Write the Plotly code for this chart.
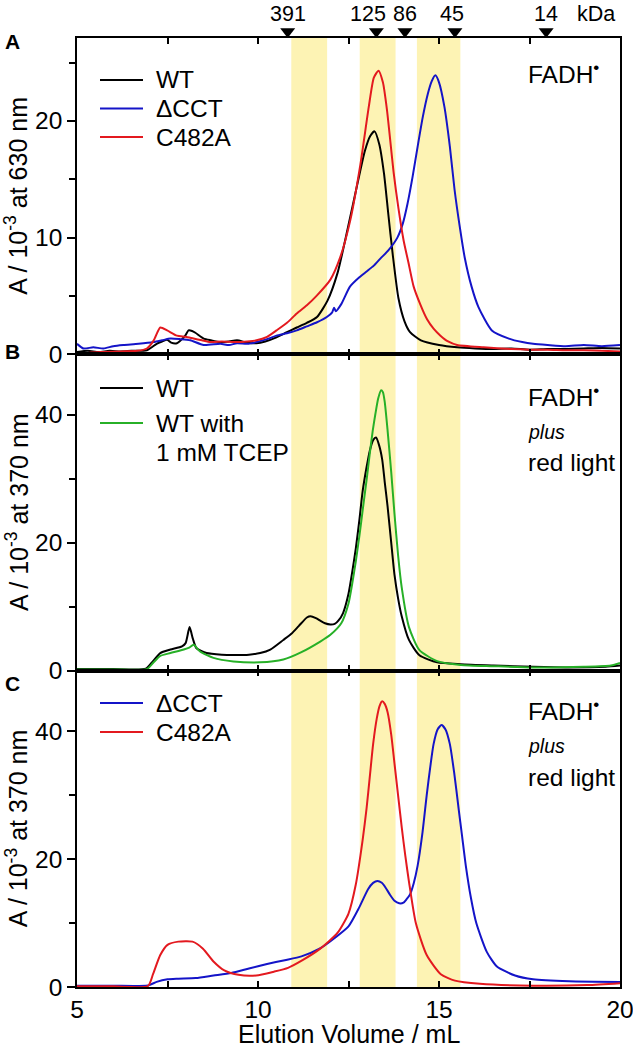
import plotly.graph_objects as go
from plotly.subplots import make_subplots

# ---------------- data ----------------
# Panel A: FADH radical, absorbance at 630 nm (x 10^-3)
a_wt_x = [5.0, 5.3, 5.6, 5.9, 6.2, 6.5, 6.93, 7.2, 7.35, 7.49, 7.6, 7.76, 7.9, 7.99, 8.08, 8.18, 8.27, 8.5, 8.7,
          8.96, 9.2, 9.42, 9.7, 9.96, 10.2, 10.51, 10.8, 11.07, 11.35, 11.63, 11.92, 12.2, 12.48, 12.76, 12.95,
          13.1, 13.22, 13.35, 13.48, 13.6, 13.72, 13.88, 14.05, 14.2, 14.5, 15.0, 15.5, 16.0, 16.5, 17.0, 17.5,
          18.0, 18.5, 19.0, 19.5, 20.0]
a_wt_y = [0.2, 0.3, 0.2, 0.3, 0.25, 0.3, 0.35, 0.9, 1.1, 1.25, 1.0, 0.95, 1.3, 1.6, 2.05, 2.0, 1.85, 1.35, 1.2,
          1.05, 1.1, 1.2, 1.0, 0.95, 1.1, 1.45, 1.9, 2.3, 2.7, 3.2, 4.6, 7.0, 10.8, 14.8, 17.4,
          18.7, 19.1, 18.0, 15.5, 12.0, 8.6, 4.8, 2.8, 1.9, 1.2, 0.8, 0.6, 0.5, 0.45, 0.5, 0.4,
          0.45, 0.45, 0.5, 0.55, 0.5]

a_dcct_x = [5.0, 5.18, 5.45, 5.73, 6.0, 6.28, 6.7, 7.12, 7.35, 7.58, 7.85, 8.13, 8.5, 8.96, 9.2, 9.42, 9.7, 9.96,
            10.25, 10.51, 10.8, 11.07, 11.35, 11.63, 11.9, 12.05, 12.1, 12.15, 12.3, 12.54, 12.8, 13.0, 13.2, 13.38,
            13.6, 13.85, 14.0, 14.13, 14.27, 14.41, 14.55, 14.69, 14.8, 14.9, 15.0, 15.15, 15.3, 15.43, 15.57,
            15.71, 15.9, 16.09, 16.46, 16.93, 17.3, 17.6, 18.0, 18.5, 19.0, 19.5, 20.0]
a_dcct_y = [0.9, 0.5, 0.6, 0.5, 0.7, 0.8, 0.9, 1.05, 1.2, 1.35, 1.3, 1.2, 0.8, 0.9, 0.8, 0.95, 0.9, 1.05,
            1.3, 1.6, 1.8, 2.05, 2.4, 2.75, 3.2, 3.6, 4.0, 3.7, 4.3, 5.8, 6.6, 7.1, 7.6, 8.2,
            8.9, 10.0, 11.2, 12.9, 15.2, 17.8, 20.3, 22.3, 23.4, 23.9, 23.3, 21.2, 17.8, 14.1, 11.0,
            8.3, 5.8, 4.05, 2.05, 1.35, 1.05, 0.9, 0.8, 0.7, 0.8, 0.7, 0.8]

a_c482a_x = [5.0, 5.4, 5.73, 6.2, 6.66, 6.93, 7.12, 7.3, 7.49, 7.76, 8.0, 8.22, 8.45, 8.68, 9.0, 9.42, 9.7, 9.96,
             10.25, 10.51, 10.8, 11.07, 11.35, 11.63, 12.0, 12.27, 12.55, 12.83, 13.06, 13.2, 13.33, 13.45, 13.56,
             13.75, 13.88, 14.02, 14.16, 14.3, 14.48, 14.67, 14.85, 15.04, 15.25, 15.5, 16.23, 17.0, 17.5, 18.0,
             18.5, 19.0, 19.5, 20.0]
a_c482a_y = [-0.1, 0.15, 0.2, 0.25, 0.3, 0.5, 1.2, 2.3, 2.05, 1.6, 1.5, 1.35, 1.2, 1.05, 1.1, 1.05, 1.1, 1.2,
             1.5, 2.05, 2.7, 3.5, 4.2, 5.05, 6.4, 8.3, 11.5, 16.3, 21.2, 23.7, 24.3, 23.3, 21.0,
             15.5, 12.5, 9.8, 7.8, 5.8, 4.3, 3.0, 2.2, 1.6, 1.1, 0.8, 0.6, 0.45, 0.4, 0.4,
             0.35, 0.35, 0.3, 0.25]

# Panel B: plus red light, absorbance at 370 nm (x 10^-3)
b_wt_x = [5.0, 6.0, 6.9, 7.1, 7.3, 7.58, 7.9, 8.0, 8.11, 8.2, 8.3, 8.58, 9.0, 9.32, 9.75, 10.06, 10.34, 10.7,
          10.93, 11.13, 11.35, 11.45, 11.6, 11.72, 11.85, 12.0, 12.12, 12.22, 12.35, 12.5, 12.6, 12.7, 12.8, 12.89,
          13.0, 13.09, 13.18, 13.26, 13.34, 13.43, 13.5, 13.58, 13.68, 13.77, 13.87, 13.97, 14.17, 14.46, 14.95,
          15.6, 16.5, 17.6, 18.5, 19.6, 20.0]
b_wt_y = [0.25, 0.25, 0.3, 1.5, 2.75, 3.3, 3.8, 4.3, 6.8, 5.0, 3.5, 2.75, 2.5, 2.45, 2.5, 2.75, 3.3, 4.8,
          5.8, 7.0, 8.3, 8.5, 8.2, 7.8, 7.4, 7.2, 7.3, 7.8, 9.0, 12.0, 15.3, 19.0, 23.5, 28.0,
          31.8, 34.4, 36.0, 36.4, 35.3, 33.0, 29.5, 25.6, 20.0, 15.0, 11.3, 8.5, 4.8, 2.4, 1.3,
          1.0, 0.8, 0.6, 0.5, 0.6, 0.8]

b_tcep_x = [5.0, 6.0, 6.93, 7.1, 7.3, 7.58, 7.95, 8.1, 8.22, 8.4, 8.77, 9.32, 10.06, 10.7, 11.2, 11.72, 12.0,
            12.3, 12.5, 12.6, 12.7, 12.8, 12.89, 13.0, 13.09, 13.17, 13.24, 13.32, 13.4, 13.45, 13.5, 13.58, 13.68,
            13.77, 13.87, 13.97, 14.17, 14.46, 14.95, 15.6, 16.5, 17.6, 19.0, 19.75, 20.0]
b_tcep_y = [0.2, 0.2, 0.25, 1.2, 2.3, 2.75, 3.3, 3.6, 4.05, 3.0, 2.0, 1.45, 1.3, 1.75, 2.9, 4.55, 5.6,
            7.4, 10.5, 13.5, 17.0, 21.0, 25.0, 29.8, 34.0, 37.5, 40.0, 42.5, 43.8, 43.5, 42.0, 37.5, 31.0,
            24.5, 18.0, 13.0, 6.8, 3.2, 1.5, 0.9, 0.7, 0.5, 0.6, 0.8, 1.2]

# Panel C: plus red light, absorbance at 370 nm (x 10^-3)
c_dcct_x = [5.0, 6.0, 6.96, 7.2, 7.5, 7.8, 8.28, 8.77, 9.26, 9.75, 10.25, 10.74, 11.2, 11.7, 12.1, 12.5, 12.8,
            13.04, 13.18, 13.3, 13.42, 13.53, 13.65, 13.77, 13.9, 14.02, 14.1, 14.2, 14.3, 14.41, 14.54, 14.66,
            14.76, 14.85, 14.96, 15.07, 15.18, 15.3, 15.42, 15.54, 15.64, 15.74, 15.88, 16.03, 16.32,
            16.6, 17.1, 17.6, 18.6, 20.0]
c_dcct_y = [0.2, 0.2, 0.25, 0.8, 1.2, 1.3, 1.4, 1.8, 2.2, 2.9, 3.6, 4.2, 4.8, 6.0, 7.6, 9.5, 12.5,
            15.3, 16.3, 16.6, 16.3, 15.5, 14.4, 13.5, 13.1, 13.2, 13.7, 14.5, 16.2, 19.0, 24.0, 30.0,
            34.5, 38.0, 40.3, 41.0, 40.3, 38.0, 33.5, 28.0, 23.5, 19.0, 14.0, 10.0, 5.5,
            3.2, 1.8, 1.2, 0.9, 0.8]

c_c482a_x = [5.0, 6.0, 6.96, 7.1, 7.3, 7.5, 7.8, 8.19, 8.48, 8.77, 9.07, 9.46, 9.95, 10.44, 10.83, 11.23, 11.72,
             12.2, 12.5, 12.7, 12.89, 13.0, 13.09, 13.18, 13.28, 13.36, 13.43, 13.5, 13.58, 13.68, 13.77, 13.87,
             13.97, 14.07, 14.17, 14.36, 14.66, 15.05, 15.44, 16.13, 17.6, 19.1, 20.0]
c_c482a_y = [0.1, 0.1, 0.15, 2.0, 5.0, 6.6, 7.1, 7.1, 6.0, 4.0, 2.6, 1.9, 1.8, 2.4, 3.0, 4.2, 6.0,
             8.5, 11.5, 16.0, 23.0, 28.0, 33.0, 38.0, 42.0, 44.0, 44.7, 44.3, 43.0, 39.5, 35.0, 30.0,
             25.0, 20.5, 16.5, 10.0, 5.0, 2.0, 1.0, 0.5, 0.2, 0.3, 0.6]

# Molecular-mass calibration markers (kDa) along the elution-volume axis
mw_labels = ["391", "125", "86", "45", "14"]
mw_volumes = [10.82, 13.27, 14.06, 15.44, 17.96]

# Highlighted elution windows (mL)
band_starts = [10.92, 12.81, 14.39]
band_ends = [11.91, 13.80, 15.59]

# ---------------- styling ----------------
BLACK = "#000000"
BLUE = "#1414c8"
RED = "#e3191f"
GREEN = "#27b027"
BAND = "#fdf3b4"
FONT = "Liberation Sans, Arial, sans-serif"
TICKFS = 24.5
TITLEFS = 25
TXTFS = 24.5
TOPFS = 21.5

W, H = 633, 1049
ML, MR, MT, MB = 77, 13, 0, 62
PW = W - ML - MR
PH = H - MT - MB
TOP_PX = 38          # pixel row of the top axis line of panel A
PANEL_PX = (PH - TOP_PX) / 3.0


def px_x(px):
    return (px - ML) / PW


def px_y(py):
    return (H - MB - py) / PH


# domains (paper fraction) for strip + three panels
a_top = px_y(TOP_PX)
a_bot = px_y(TOP_PX + PANEL_PX)
b_bot = px_y(TOP_PX + 2 * PANEL_PX)

fig = make_subplots(rows=4, cols=1, shared_xaxes=True, vertical_spacing=0)

panels = [
    (2, [(a_wt_x, a_wt_y, BLACK, "WT"), (a_dcct_x, a_dcct_y, BLUE, "ΔCCT"), (a_c482a_x, a_c482a_y, RED, "C482A")]),
    (3, [(b_wt_x, b_wt_y, BLACK, "WT"), (b_tcep_x, b_tcep_y, GREEN, "WT with 1 mM TCEP")]),
    (4, [(c_dcct_x, c_dcct_y, BLUE, "ΔCCT"), (c_c482a_x, c_c482a_y, RED, "C482A")]),
]
for row, series in panels:
    for xs, ys, col, name in series:
        fig.add_trace(go.Scatter(x=xs, y=ys, mode="lines", name=name,
                                 line=dict(color=col, width=2, shape="spline", smoothing=0.6),
                                 showlegend=False, hoverinfo="skip"), row=row, col=1)

# MW markers in the top strip (strip y axis: 0 = top axis line of panel A, 1 = top of page)
TRI_SIZE = 13
tri_center = (TRI_SIZE / 2.0) / TOP_PX
fig.add_trace(go.Scatter(x=mw_volumes, y=[tri_center] * len(mw_volumes), mode="markers",
                         marker=dict(symbol="triangle-down", size=TRI_SIZE, color=BLACK, line=dict(width=0)),
                         cliponaxis=False, showlegend=False, hoverinfo="skip"), row=1, col=1)

label_shift = [0, -8, 0, -3, 0]
annotations = []
for lab, v, sh in zip(mw_labels, mw_volumes, label_shift):
    annotations.append(dict(x=v, y=px_y(14), xref="x", yref="paper", text=lab, showarrow=False,
                            xanchor="center", yanchor="middle",
                            xshift=sh, font=dict(size=TOPFS, family=FONT, color=BLACK)))
annotations.append(dict(x=px_x(596), y=px_y(14), xref="paper", yref="paper", text="kDa", showarrow=False,
                        xanchor="center", yanchor="middle", font=dict(size=TOPFS, family=FONT, color=BLACK)))

# panel letters
for letter, py in [("A", 42), ("B", 351), ("C", 683)]:
    annotations.append(dict(x=px_x(12), y=px_y(py), xref="paper", yref="paper", text="<b>%s</b>" % letter,
                            xanchor="center", yanchor="middle",
                            showarrow=False, font=dict(size=21, family=FONT, color=BLACK)))

# axis titles (placed as annotations for exact positioning)
ytitles = ["A / 10<sup>-3</sup> at 630 nm", "A / 10<sup>-3</sup> at 370 nm", "A / 10<sup>-3</sup> at 370 nm"]
for k, t in enumerate(ytitles):
    centre = TOP_PX + (k + 0.5) * PANEL_PX
    annotations.append(dict(x=px_x(16.5), y=px_y(centre), xref="paper", yref="paper", text=t, showarrow=False,
                            textangle=-90, xanchor="center", yanchor="middle",
                            font=dict(size=TITLEFS, family=FONT, color=BLACK)))
annotations.append(dict(x=0.5, y=px_y(1034), xref="paper", yref="paper", text="Elution Volume / mL",
                        showarrow=False, xanchor="center", yanchor="middle",
                        font=dict(size=TITLEFS, family=FONT, color=BLACK)))

# right-hand condition labels
def cond(text, py, size=TXTFS, italic=False):
    t = "<i>%s</i>" % text if italic else text
    annotations.append(dict(x=px_x(526), y=px_y(py), xref="paper", yref="paper", text=t, showarrow=False,
                            xanchor="left", yanchor="middle", font=dict(size=size, family=FONT, color=BLACK)))

cond("FADH<sup>•</sup>", 72)
cond("FADH<sup>•</sup>", 395)
cond("plus", 432, size=19.5, italic=True)
cond("red light", 463)
cond("FADH<sup>•</sup>", 709)
cond("plus", 746, size=19.5, italic=True)
cond("red light", 777)

# manual legends
shapes = []
def legend_item(text, py, color):
    shapes.append(dict(type="line", xref="paper", yref="paper", x0=px_x(100), x1=px_x(143),
                       y0=px_y(py), y1=px_y(py), line=dict(color=color, width=2)))
    annotations.append(dict(x=px_x(154), y=px_y(py), xref="paper", yref="paper", text=text, showarrow=False,
                            xanchor="left", yanchor="middle", font=dict(size=TXTFS, family=FONT, color=BLACK)))

legend_item("WT", 80, BLACK)
legend_item("ΔCCT", 108.5, BLUE)
legend_item("C482A", 137, RED)
legend_item("WT", 388, BLACK)
legend_item("WT with", 423, GREEN)
annotations.append(dict(x=px_x(154), y=px_y(452), xref="paper", yref="paper", text="1 mM TCEP", showarrow=False,
                        xanchor="left", yanchor="middle", font=dict(size=TXTFS, family=FONT, color=BLACK)))
legend_item("ΔCCT", 703, BLUE)
legend_item("C482A", 732, RED)

# highlighted bands across the three panels
for s, e in zip(band_starts, band_ends):
    shapes.append(dict(type="rect", xref="x", yref="paper", x0=s, x1=e, y0=0, y1=a_top,
                       fillcolor=BAND, line=dict(width=0), layer="below"))

fig.update_layout(width=W, height=H, margin=dict(l=ML, r=MR, t=MT, b=MB, pad=0, autoexpand=False),
                  plot_bgcolor="rgba(0,0,0,0)", paper_bgcolor="white",
                  font=dict(family=FONT, size=TICKFS, color=BLACK),
                  annotations=annotations, shapes=shapes, showlegend=False)

# top strip axes (invisible)
fig.update_xaxes(range=[5, 20], visible=False, automargin=False, row=1, col=1)
fig.update_yaxes(range=[0, 1], domain=[a_top, 1.0], visible=False, automargin=False, row=1, col=1)

for i in range(2, 5):
    fig.update_xaxes(range=[5, 20], dtick=5, tick0=5, ticks="inside", ticklen=6, tickwidth=1.5,
                     showline=True, linecolor=BLACK, linewidth=1.5, mirror="ticks", showgrid=False, zeroline=False,
                     minor=dict(dtick=2.5, ticks="inside", ticklen=6, tickwidth=1.5, tickcolor=BLACK),
                     tickcolor=BLACK, showticklabels=(i == 4), tickfont=dict(size=TICKFS, family=FONT),
                     ticklabeloverflow="allow", automargin=False, row=i, col=1)
fig.update_xaxes(ticklabelstandoff=0, row=4, col=1)

yspecs = [(2, [0, 27.1], 10, 5, [a_bot, a_top]),
          (3, [0, 49.4], 20, 10, [b_bot, a_bot]),
          (4, [0, 49.5], 20, 10, [0.0, b_bot])]
for row, rng, dt, mdt, dom in yspecs:
    fig.update_yaxes(range=rng, domain=dom, dtick=dt, tick0=0, ticks="outside", ticklen=8, tickwidth=1.5,
                     tickcolor=BLACK,
                     minor=dict(dtick=mdt, ticks="outside", ticklen=6, tickwidth=1.5, tickcolor=BLACK),
                     showline=True, linecolor=BLACK, linewidth=1.5, mirror=True, showgrid=False, zeroline=False,
                     tickfont=dict(size=TICKFS, family=FONT), automargin=False,
                     row=row, col=1)

fig.write_html("out.html", config={"displayModeBar": False},
               post_script="document.body.style.margin='0';document.body.style.padding='0';")
